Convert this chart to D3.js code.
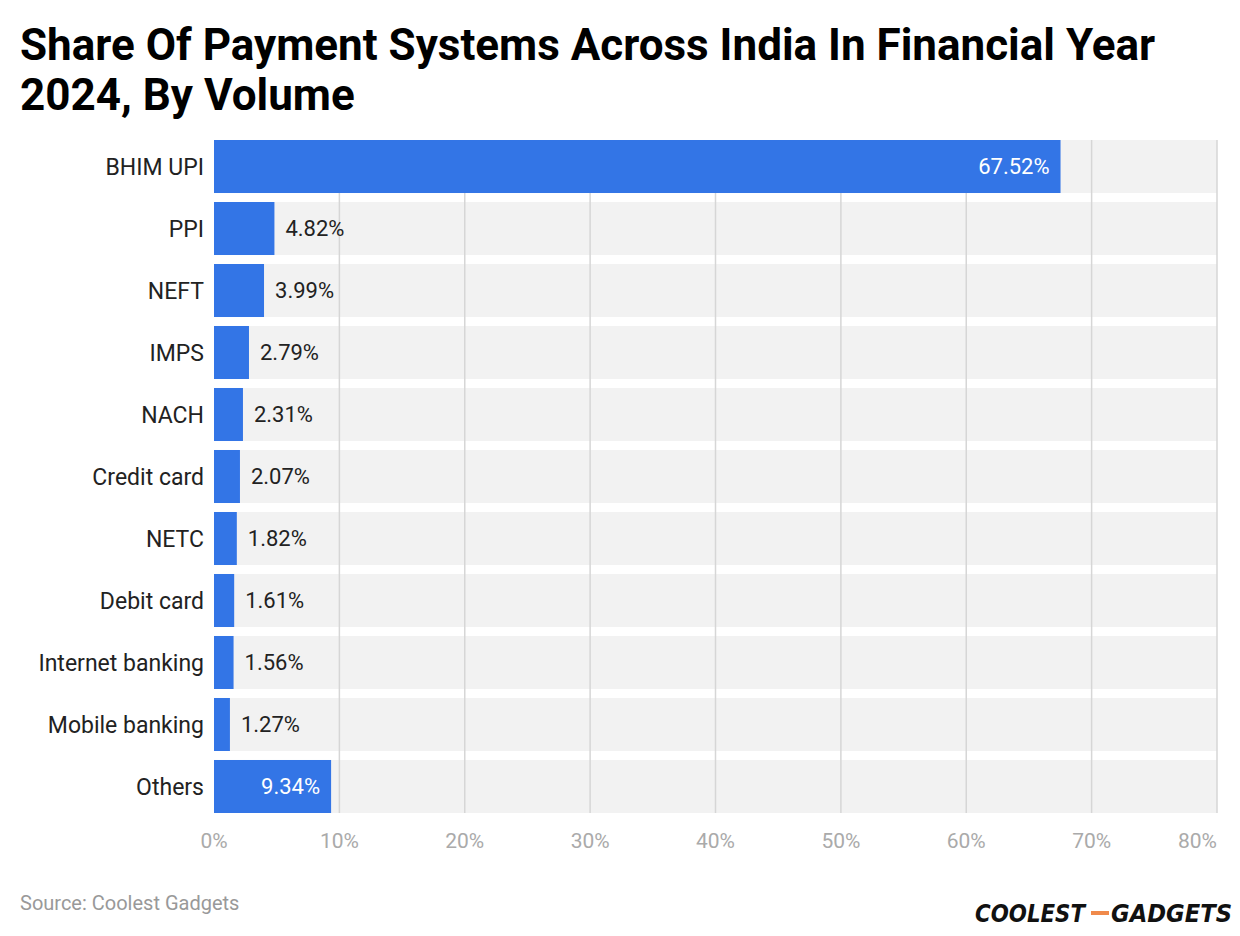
<!DOCTYPE html>
<html><head><meta charset="utf-8">
<script src="https://cdn.jsdelivr.net/npm/d3@7"></script>
<style>body{margin:0;background:#fff}</style>
</head><body>
<script>
const categories = ["BHIM UPI","PPI","NEFT","IMPS","NACH","Credit card","NETC","Debit card","Internet banking","Mobile banking","Others"];
const shares = [67.52,4.82,3.99,2.79,2.31,2.07,1.82,1.61,1.56,1.27,9.34];
const ticks = [0,10,20,30,40,50,60,70,80];

const W = 1240, H = 936;
const svg = d3.select("body").append("svg").attr("width", W).attr("height", H)
  .style("font-family", "Roboto");

// title
svg.append("text").attr("x", 20).attr("y", 60).attr("font-size", 44).attr("font-weight", 700)
  .text("Share Of Payment Systems Across India In Financial Year");
svg.append("text").attr("x", 20).attr("y", 110).attr("font-size", 44).attr("font-weight", 700)
  .text("2024, By Volume");

let x = d3.scaleLinear().domain([0, 80]).range([214, 1217]);
let y = d3.scaleBand().domain(categories).range([140, 813]).paddingInner(0.145).paddingOuter(0);

// row backgrounds
svg.selectAll("rect.bg").data(categories).enter().append("rect")
  .attr("x", 214).attr("y", d => y(d)).attr("width", 1003).attr("height", y.bandwidth())
  .attr("fill", "#f2f2f2");

// grid
svg.selectAll("line.grid").data(ticks.slice(1)).enter().append("line")
  .attr("x1", d => x(d)).attr("x2", d => x(d)).attr("y1", 140).attr("y2", 813)
  .attr("stroke", "#d6d6d6").attr("stroke-width", 1.5);

// bars
svg.selectAll("rect.bar").data(shares).enter().append("rect")
  .attr("x", x(0)).attr("y", (d, i) => y(categories[i]))
  .attr("width", d => x(d) - x(0)).attr("height", y.bandwidth())
  .attr("fill", "#3375e6");

// value labels
svg.selectAll("text.val").data(shares).enter().append("text")
  .attr("x", d => d > 8 ? x(d) - 11 : x(d) + 11)
  .attr("y", (d, i) => y(categories[i]) + y.bandwidth() / 2)
  .attr("dy", "0.35em").attr("font-size", 22)
  .attr("text-anchor", d => d > 8 ? "end" : "start")
  .attr("fill", d => d > 8 ? "#fff" : "#222")
  .text(d => d.toFixed(2) + "%");

// category labels
svg.selectAll("text.cat").data(categories).enter().append("text")
  .attr("x", 204).attr("y", d => y(d) + y.bandwidth() / 2)
  .attr("dy", "0.35em").attr("font-size", 23).attr("text-anchor", "end").attr("fill", "#222")
  .text(d => d);

// x axis labels
svg.selectAll("text.tick").data(ticks).enter().append("text")
  .attr("x", d => x(d)).attr("y", 848).attr("font-size", 21).attr("fill", "#aaa")
  .attr("text-anchor", (d, i) => i === ticks.length - 1 ? "end" : "middle")
  .text(d => d + "%");

svg.append("text").attr("x", 20).attr("y", 910).attr("font-size", 20).attr("fill", "#999")
  .text("Source: Coolest Gadgets");

// logo
const logoFont = {size: 24, weight: 900, family: "DejaVu Sans"};
function logoText(xp, txt, w, col) {
  svg.append("text").attr("x", xp).attr("y", 922).attr("font-size", logoFont.size)
    .attr("font-weight", logoFont.weight).attr("font-style", "italic").attr("fill", col)
    .attr("font-family", logoFont.family).attr("textLength", w).attr("lengthAdjust", "spacingAndGlyphs")
    .text(txt);
}
logoText(975, "COOLEST", 110, "#111");
svg.append("rect").attr("x", 1091).attr("y", 911).attr("width", 18).attr("height", 4).attr("fill", "#f08a4b");
logoText(1111, "GADGETS", 121, "#111");
</script>
</body></html>
